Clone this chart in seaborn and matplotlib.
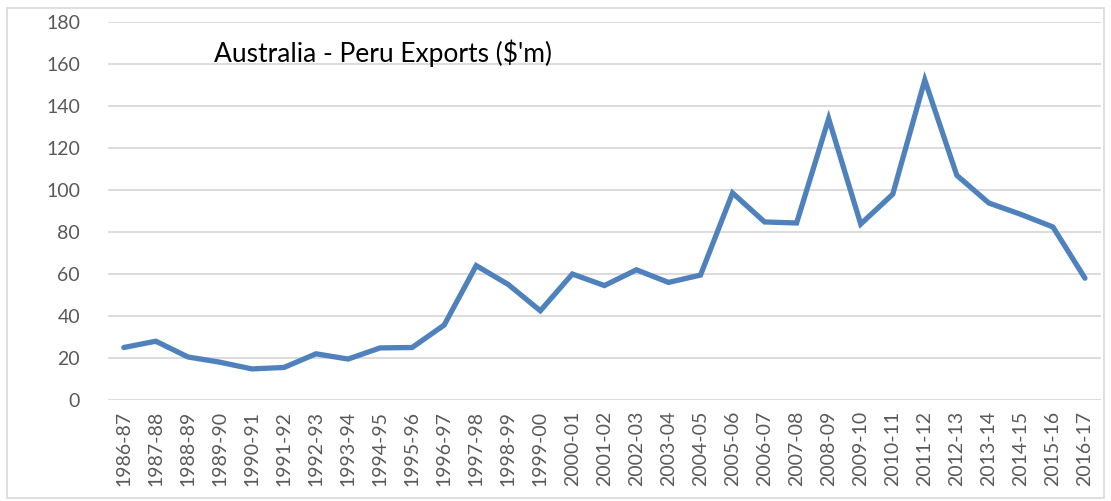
import pandas as pd
import seaborn as sns
import matplotlib.pyplot as plt
from matplotlib.patches import Rectangle

# financial years and export values ($'m)
years = ['1986-87', '1987-88', '1988-89', '1989-90', '1990-91', '1991-92',
         '1992-93', '1993-94', '1994-95', '1995-96', '1996-97', '1997-98',
         '1998-99', '1999-00', '2000-01', '2001-02', '2002-03', '2003-04',
         '2004-05', '2005-06', '2006-07', '2007-08', '2008-09', '2009-10',
         '2010-11', '2011-12', '2012-13', '2013-14', '2014-15', '2015-16',
         '2016-17']
exports = [25, 28, 20.5, 18, 14.8, 15.5, 22, 19.5, 24.8, 25, 35.7, 64,
           55, 42.5, 60, 54.5, 62, 56, 59.5, 98.6, 84.8, 84.3, 134, 83.8,
           98, 152.4, 107, 93.8, 88.4, 82.4, 58]
y_ticks = [0, 20, 40, 60, 80, 100, 120, 140, 160, 180]
title = "Australia - Peru Exports ($'m)"

df = pd.DataFrame({'year': years, 'exports': exports})

sns.set_style('white')
plt.rcParams['font.family'] = ['Lato', 'DejaVu Sans']

fig = plt.figure(figsize=(11.11, 5.01), dpi=100)
ax = fig.add_axes([0.097, 0.2016, 0.894, 0.7544])

sns.lineplot(data=df, x='year', y='exports', ax=ax, color='#4F81BD',
             linewidth=3.8, solid_joinstyle='miter', sort=False)

ax.set_xlim(-0.5, len(years) - 0.5)
ax.set_ylim(0, 180)
ax.set_yticks(y_ticks)
ax.yaxis.grid(True, color='#D9D9D9', linewidth=1.3)
ax.set_axisbelow(True)
for s in ax.spines.values():
    s.set_visible(False)
ax.tick_params(axis='both', length=0, labelsize=14, labelcolor='#595959')
ax.tick_params(axis='x', rotation=90, pad=8)
ax.tick_params(axis='y', pad=20)
ax.set_xlabel('')
ax.set_ylabel('')

fig.text(0.193, 0.893, title, fontsize=19, color='black', va='center', ha='left')

# thin frame round the whole chart
fig.patches.append(Rectangle((0.006, 0.006), 0.988, 0.978, transform=fig.transFigure,
                             fill=False, edgecolor='#D9D9D9', linewidth=1.2))

fig.savefig('out.png', dpi=100)
